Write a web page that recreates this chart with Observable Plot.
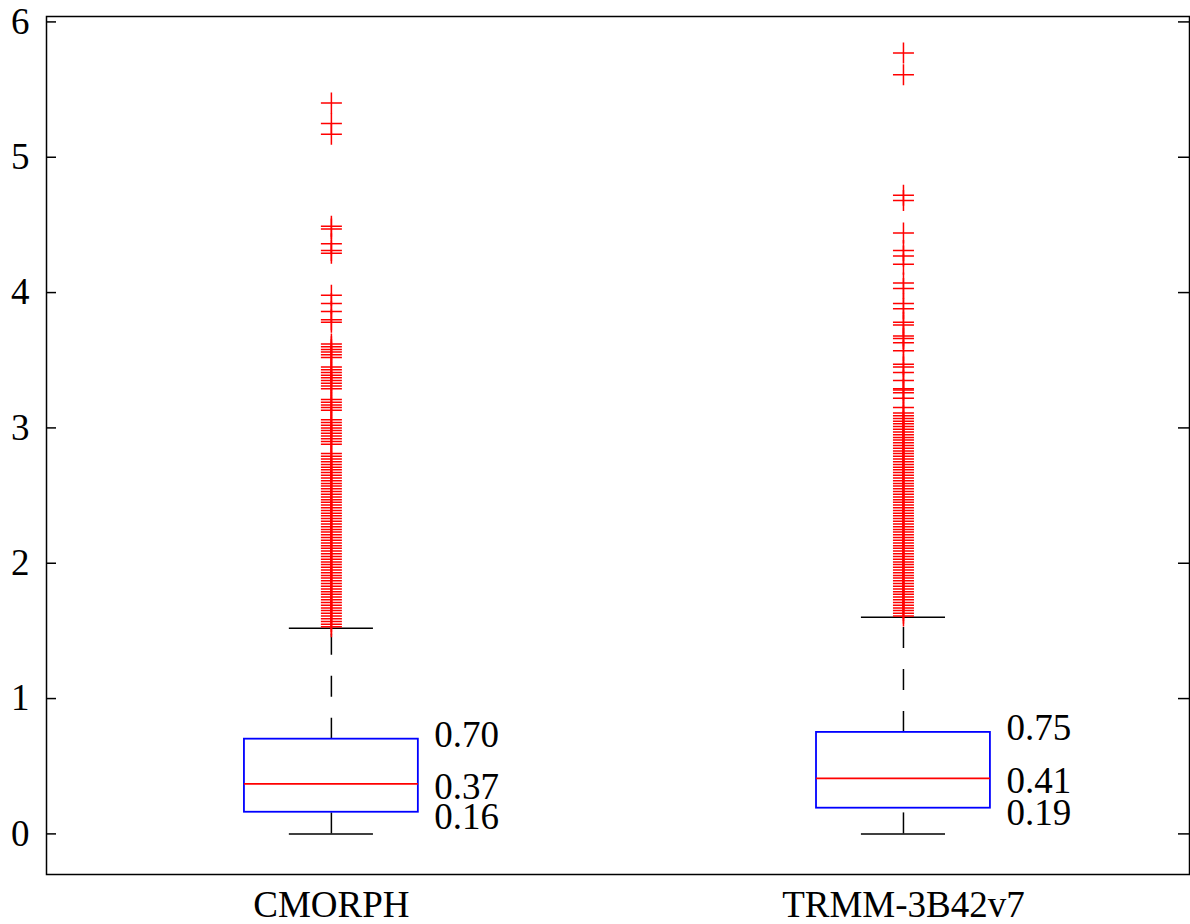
<!DOCTYPE html>
<html>
<head>
<meta charset="utf-8">
<script src="https://cdn.jsdelivr.net/npm/d3@7"></script>
<script src="https://cdn.jsdelivr.net/npm/@observablehq/plot@0.6"></script>
<style>
  html, body { margin: 0; padding: 0; background: #fff; }
  svg { display: block; }
</style>
</head>
<body>
<div id="chart"></div>
<script>
// ---- data ----
const categories = ["CMORPH", "TRMM-3B42v7"];
const q1 = [0.16, 0.19];
const median = [0.37, 0.41];
const q3 = [0.70, 0.75];
const whiskerLow = [0, 0];
const whiskerHigh = [1.52, 1.60];
const boxLabels = [["0.70", "0.37", "0.16"], ["0.75", "0.41", "0.19"]];

const outliersCMORPH = [
  1.53,1.55,1.57,1.59,1.61,1.63,1.65,1.67,1.69,1.71,1.73,1.75,1.77,1.79,1.81,1.83,1.85,1.87,1.89,1.91,
  1.93,1.95,1.97,1.99,2.01,2.03,2.05,2.07,2.09,2.11,2.13,2.15,2.17,2.19,2.21,2.23,2.25,2.27,2.29,2.31,
  2.33,2.35,2.37,2.39,2.41,2.43,2.45,2.47,2.49,2.51,2.53,2.55,2.57,2.59,2.61,2.63,2.65,2.67,2.69,2.71,
  2.73,2.75,2.77,2.79,2.81,
  2.88,2.90,2.92,2.94,2.96,2.98,3.00,3.02,3.04,3.06,
  3.13,3.15,3.17,3.19,3.21,
  3.29,3.31,3.33,3.35,3.37,3.39,3.41,3.43,3.45,
  3.52,3.54,3.56,3.58,3.60,3.62,
  3.78,3.80,3.86,3.92,3.98,
  4.29,4.31,4.36,4.47,4.49,
  5.17,5.25,5.40
];
const outliersTRMM = [
  1.61,1.63,1.65,1.67,1.69,1.71,1.73,1.75,1.77,1.79,1.81,1.83,1.85,1.87,1.89,1.91,1.93,1.95,1.97,1.99,
  2.01,2.03,2.05,2.07,2.09,2.11,2.13,2.15,2.17,2.19,2.21,2.23,2.25,2.27,2.29,2.31,2.33,2.35,2.37,2.39,
  2.41,2.43,2.45,2.47,2.49,2.51,2.53,2.55,2.57,2.59,2.61,2.63,2.65,2.67,2.69,2.71,2.73,2.75,2.77,2.79,
  2.81,2.83,2.85,2.87,2.89,2.91,2.93,2.95,2.97,2.99,3.01,3.03,3.05,3.07,3.09,3.11,
  3.15,3.22,3.26,3.28,3.29,3.35,3.41,3.45,3.47,3.57,3.63,3.66,3.68,3.76,3.78,3.88,3.92,
  4.03,4.07,4.21,4.27,4.31,4.44,
  4.68,4.72,
  5.61,5.77
];
const yTicks = [0, 1, 2, 3, 4, 5, 6];

// ---- build tables ----
const idx = categories.map((c, i) => i);
const boxes = idx.map(i => ({i, q1: q1[i], med: median[i], q3: q3[i], lo: whiskerLow[i], hi: whiskerHigh[i]}));
const outliers = [
  ...outliersCMORPH.map(v => ({i: 0, v})),
  ...outliersTRMM.map(v => ({i: 1, v}))
];
const labels = [];
idx.forEach(i => {
  const vals = [q3[i], median[i], q1[i]];
  vals.forEach((v, k) => labels.push({i, v, k, text: boxLabels[i][k]}));
});

// ---- layout ----
const W = 1190, H = 924;
const mL = 46, mR = 1, mT = 16, mB = 50;
const innerW = W - mL - mR;
const boxHalf = 0.152, capHalf = 0.0735;
const fs = 37;
const font = "'Liberation Serif', 'Times New Roman', serif";
const plusSymbol = {
  draw(ctx) {
    ctx.moveTo(-10.5, 0); ctx.lineTo(10.5, 0);
    ctx.moveTo(0, -10.5); ctx.lineTo(0, 10.5);
  }
};
const roleDy = [-4, 3, 5];

const labelMarks = roleDy.map((dy, k) =>
  Plot.text(labels.filter(d => d.k === k), {
    x: d => d.i + boxHalf, y: "v", text: "text",
    dx: 16, dy, textAnchor: "start", fontSize: fs, fill: "black"
  })
);

const chart = Plot.plot({
  width: W,
  height: H,
  marginLeft: mL,
  marginRight: mR,
  marginTop: mT,
  marginBottom: mB,
  style: {fontFamily: font, fontSize: fs + "px", background: "#fff", color: "#000"},
  x: {type: "linear", domain: [-0.498, 1.5]},
  y: {domain: [-0.30, 6.04]},
  marks: [
    Plot.axisY(yTicks, {tickSize: 0, tickPadding: 17, fontSize: fs, tickFormat: d => String(d), label: null}),
    Plot.axisX(idx, {tickSize: 0, tickPadding: 16, fontSize: fs, tickFormat: i => categories[i], label: null}),
    // inward ticks left and right
    Plot.ruleY(yTicks, {y: d => d, insetRight: innerW - 10, stroke: "black", strokeWidth: 1.5}),
    Plot.ruleY(yTicks, {y: d => d, insetLeft: innerW - 11, stroke: "black", strokeWidth: 1.5}),
    // whiskers (dashed)
    Plot.ruleX(boxes, {x: "i", y1: "q3", y2: "hi", stroke: "black", strokeWidth: 1.5, strokeDasharray: "21,21"}),
    Plot.ruleX(boxes, {x: "i", y1: "lo", y2: "q1", stroke: "black", strokeWidth: 1.5, strokeDasharray: "21,21"}),
    // caps
    Plot.ruleY(boxes, {y: "hi", x1: d => d.i - capHalf, x2: d => d.i + capHalf, stroke: "black", strokeWidth: 1.5}),
    Plot.ruleY(boxes, {y: "lo", x1: d => d.i - capHalf, x2: d => d.i + capHalf, stroke: "black", strokeWidth: 1.5}),
    // box
    Plot.rect(boxes, {x1: d => d.i - boxHalf, x2: d => d.i + boxHalf, y1: "q1", y2: "q3", fill: "none", stroke: "#0000ff", strokeWidth: 1.8}),
    // median
    Plot.ruleY(boxes, {y: "med", x1: d => d.i - boxHalf, x2: d => d.i + boxHalf, stroke: "#ff0000", strokeWidth: 1.8}),
    // outliers
    Plot.dot(outliers, {x: "i", y: "v", symbol: plusSymbol, r: 5, fill: "none", stroke: "#ff0000", strokeWidth: 1.5}),
    // box value labels
    ...labelMarks,
    Plot.frame({stroke: "black", strokeWidth: 1.5})
  ]
});
document.getElementById("chart").appendChild(chart);
</script>
</body>
</html>
